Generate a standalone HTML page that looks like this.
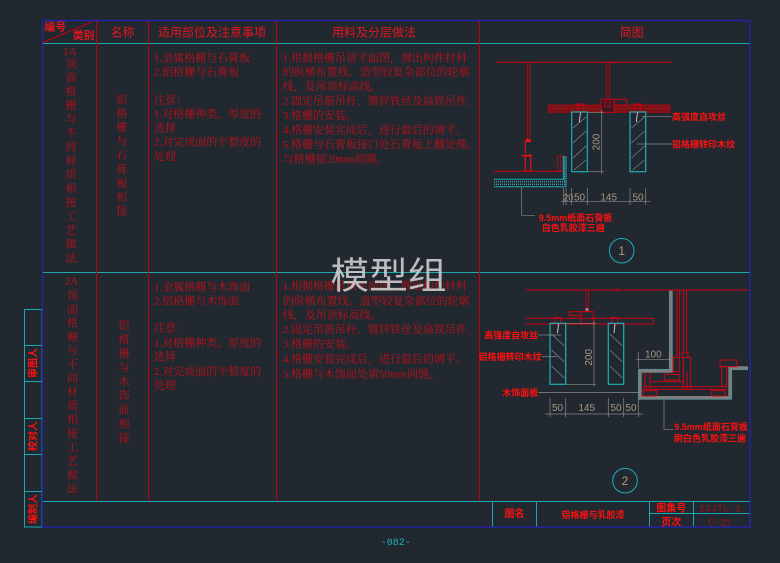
<!DOCTYPE html>
<html><head><meta charset="utf-8">
<style>
html,body{margin:0;padding:0;background:#212830;}
svg{display:block;}
.b{font-family:"Liberation Serif","Noto Serif CJK SC",serif;font-size:11px;fill:#c01018;}
.h{font-family:"Liberation Sans","Noto Sans CJK SC",sans-serif;font-size:12px;fill:#e3161e;}
.l{font-family:"Liberation Sans","Noto Sans CJK SC",sans-serif;font-size:9px;font-weight:bold;fill:#ff1010;}
.d{font-family:"Liberation Sans",sans-serif;font-size:10px;fill:#a89880;}
</style></head><body>
<svg width="780" height="563" viewBox="0 0 780 563" xmlns="http://www.w3.org/2000/svg">
<rect width="780" height="563" fill="#212830"/>

<!-- table lines -->
<g fill="none" stroke-width="1">
<line x1="42" y1="43.5" x2="750" y2="43.5" stroke="#1ba8b0"/>
<line x1="42" y1="272.5" x2="750" y2="272.5" stroke="#1ba8b0"/>
<line x1="42" y1="501.5" x2="750" y2="501.5" stroke="#1ba8b0"/>
<line x1="96.5" y1="20" x2="96.5" y2="501" stroke="#c00010"/>
<line x1="148.5" y1="20" x2="148.5" y2="501" stroke="#c00010"/>
<line x1="276.5" y1="20" x2="276.5" y2="501" stroke="#c00010"/>
<line x1="479.5" y1="20" x2="479.5" y2="501" stroke="#c00010"/>
<line x1="42" y1="43" x2="96" y2="20" stroke="#c00010"/>
<!-- title block -->
<line x1="492.5" y1="501" x2="492.5" y2="527" stroke="#1ba8b0"/>
<line x1="536.5" y1="501" x2="536.5" y2="527" stroke="#1ba8b0"/>
<line x1="649.5" y1="501" x2="649.5" y2="527" stroke="#1ba8b0"/>
<line x1="693.5" y1="501" x2="693.5" y2="527" stroke="#1ba8b0"/>
<line x1="649" y1="513.5" x2="750" y2="513.5" stroke="#1ba8b0"/>
<!-- left strip -->
<rect x="24.5" y="309.5" width="17.5" height="217.5" stroke="#1ba8b0"/>
<line x1="24.5" y1="345.5" x2="42" y2="345.5" stroke="#1ba8b0"/>
<line x1="24.5" y1="381.5" x2="42" y2="381.5" stroke="#1ba8b0"/>
<line x1="24.5" y1="418.5" x2="42" y2="418.5" stroke="#1ba8b0"/>
<line x1="24.5" y1="454.5" x2="42" y2="454.5" stroke="#1ba8b0"/>
<line x1="24.5" y1="491.5" x2="42" y2="491.5" stroke="#1ba8b0"/>
<rect x="42.5" y="20.5" width="707.5" height="506.5" stroke="#2424a8" stroke-width="1.4"/>
</g>

<!-- header text -->
<text x="44.3" y="30.5" class="h" style="font-size:11px;font-weight:bold">编号</text>
<text x="72.7" y="39" class="h" style="font-size:11px;font-weight:bold">类别</text>
<text x="122.5" y="36.5" class="h" text-anchor="middle">名称</text>
<text x="212" y="36.5" class="h" text-anchor="middle">适用部位及注意事项</text>
<text x="374" y="36.5" class="h" text-anchor="middle">用料及分层做法</text>
<text x="631.7" y="36.5" class="h" text-anchor="middle">简图</text>

<!-- row1 col1 -->
<text class="b" text-anchor="middle">
<tspan x="71" y="55">1A</tspan>
<tspan x="71" y="67.3">顶</tspan><tspan x="71" y="81.2">面</tspan><tspan x="71" y="95">格</tspan><tspan x="71" y="108.9">栅</tspan><tspan x="71" y="122.7">与</tspan><tspan x="71" y="136.6">不</tspan><tspan x="71" y="150.5">同</tspan><tspan x="71" y="164.3">材</tspan><tspan x="71" y="178.2">质</tspan><tspan x="71" y="192">相</tspan><tspan x="71" y="205.9">接</tspan><tspan x="71" y="219.8">工</tspan><tspan x="71" y="233.6">艺</tspan><tspan x="71" y="247.5">做</tspan><tspan x="71" y="261.3">法</tspan>
</text>
<!-- row2 col1 -->
<text class="b" text-anchor="middle">
<tspan x="72.5" y="284.3">2A</tspan>
<tspan x="72.5" y="299">顶</tspan><tspan x="72.5" y="312.8">面</tspan><tspan x="72.5" y="326.6">格</tspan><tspan x="72.5" y="340.4">栅</tspan><tspan x="72.5" y="354.2">与</tspan><tspan x="72.5" y="368">不</tspan><tspan x="72.5" y="381.8">同</tspan><tspan x="72.5" y="395.6">材</tspan><tspan x="72.5" y="409.4">质</tspan><tspan x="72.5" y="423.2">相</tspan><tspan x="72.5" y="437">接</tspan><tspan x="72.5" y="450.8">工</tspan><tspan x="72.5" y="464.6">艺</tspan><tspan x="72.5" y="478.4">做</tspan><tspan x="72.5" y="492.2">法</tspan>
</text>
<!-- col2 -->
<text class="b" text-anchor="middle">
<tspan x="121.7" y="103.3">铝</tspan><tspan x="121.7" y="117.2">格</tspan><tspan x="121.7" y="131.2">栅</tspan><tspan x="121.7" y="145.1">与</tspan><tspan x="121.7" y="159">石</tspan><tspan x="121.7" y="173">膏</tspan><tspan x="121.7" y="186.9">板</tspan><tspan x="121.7" y="200.8">相</tspan><tspan x="121.7" y="214.7">接</tspan>
</text>
<text class="b" text-anchor="middle">
<tspan x="124" y="329">铝</tspan><tspan x="124" y="343">格</tspan><tspan x="124" y="357.1">栅</tspan><tspan x="124" y="371.1">与</tspan><tspan x="124" y="385.2">木</tspan><tspan x="124" y="399.2">饰</tspan><tspan x="124" y="413.2">面</tspan><tspan x="124" y="427.3">相</tspan><tspan x="124" y="441.3">接</tspan>
</text>
<!-- col3 -->
<text class="b">
<tspan x="154" y="61.7">1.金属格栅与石膏板</tspan>
<tspan x="154" y="75.7">2.铝格栅与石膏板</tspan>
<tspan x="154" y="103.3">注意：</tspan>
<tspan x="154" y="117.3">1.对格栅种类、厚度的</tspan>
<tspan x="154" y="131.7">选择</tspan>
<tspan x="154" y="145.7">2.对完成面的平整度的</tspan>
<tspan x="154" y="160">处理</tspan>
</text>
<text class="b">
<tspan x="154" y="290.7">1.金属格栅与木饰面</tspan>
<tspan x="154" y="304.7">2.铝格栅与木饰面</tspan>
<tspan x="154" y="331.3">注意：</tspan>
<tspan x="154" y="346.3">1.对格栅种类、厚度的</tspan>
<tspan x="154" y="360">选择</tspan>
<tspan x="154" y="375">2.对完成面的平整度的</tspan>
<tspan x="154" y="389">处理</tspan>
</text>
<!-- col4 -->
<text class="b">
<tspan x="282.7" y="61.3">1.根据格栅吊顶平面图，弹出构件材料</tspan>
<tspan x="282.7" y="75.7">的纵横布置线。造型较复杂部位的轮廓</tspan>
<tspan x="282.7" y="90.2">线，及吊顶标高线。</tspan>
<tspan x="282.7" y="104.6">2.固定吊筋吊杆、镀锌铁丝及扁铁吊件。</tspan>
<tspan x="282.7" y="119">3.格栅的安装。</tspan>
<tspan x="282.7" y="133.5">4.格栅安装完成后，进行最后的调平。</tspan>
<tspan x="282.7" y="147.9">5.格栅与石膏板接口处石膏板上翻处理。</tspan>
<tspan x="282.7" y="162.3">与格栅留20mm间隙。</tspan>
</text>
<text class="b">
<tspan x="282.7" y="289.7">1.根据格栅吊顶平面图，弹出构件材料</tspan>
<tspan x="282.7" y="304.7">的纵横布置线。造型较复杂部位的轮廓</tspan>
<tspan x="282.7" y="318.3">线，及吊顶标高线。</tspan>
<tspan x="282.7" y="333">2.固定吊筋吊杆、镀锌铁丝及扁铁吊件。</tspan>
<tspan x="282.7" y="347.3">3.格栅的安装。</tspan>
<tspan x="282.7" y="362.3">4.格栅安装完成后，进行最后的调平。</tspan>
<tspan x="282.7" y="377.3">5.格栅与木饰面处留50mm间缝。</tspan>
</text>

<!-- ===== Drawing 1 ===== -->
<g fill="none">
<line x1="496" y1="62.3" x2="671.7" y2="62.3" stroke="#d00010" stroke-width="1"/>
<line x1="612" y1="64" x2="614" y2="60" stroke="#d00010" stroke-width="0.8"/>
<!-- left hanger -->
<line x1="527.3" y1="62" x2="527.3" y2="140" stroke="#d00010" stroke-width="0.8"/>
<line x1="529.8" y1="62" x2="529.8" y2="140" stroke="#d00010" stroke-width="0.8"/>
<rect x="525.7" y="139.3" width="5" height="2.6" fill="#ff1010"/>
<polyline points="530.7,141.5 525.3,141.5 525.3,153.3" stroke="#ff1010" stroke-width="1"/>
<line x1="521.7" y1="155.7" x2="531.7" y2="155.7" stroke="#ff1010" stroke-width="1.2"/>
<rect x="525.2" y="155.2" width="5.5" height="16" stroke="#ff1010" stroke-width="1.1"/>
<!-- batten -->
<line x1="494" y1="171.3" x2="563.3" y2="171.3" stroke="#d00010" stroke-width="1"/>
<rect x="557.7" y="156" width="5.6" height="15.3" stroke="#d00010" stroke-width="0.8"/>
<line x1="560.5" y1="156" x2="560.5" y2="171" stroke="#d00010" stroke-width="0.6"/>
<!-- board -->
<polyline points="494,179.3 563.3,179.3 563.3,156" stroke="#1bb0b8" stroke-width="1"/>
<polyline points="494,186.7 566,186.7 566,156" stroke="#1bb0b8" stroke-width="1"/>
<polyline points="494,181.8 564.5,181.8" stroke="#4fc8d0" stroke-width="1" stroke-dasharray="1 1"/>
<polyline points="494,184.3 564.5,184.3 564.5,156" stroke="#4fc8d0" stroke-width="1" stroke-dasharray="1 1"/>
<!-- carrier -->
<rect x="548.3" y="105" width="121.7" height="7.3" fill="#7a1418" stroke="#c00010" stroke-width="0.8"/>
<line x1="548.3" y1="108.6" x2="670" y2="108.6" stroke="#a01018" stroke-width="0.6"/>
<!-- center hanger -->
<line x1="606.7" y1="62" x2="606.7" y2="99.3" stroke="#d00010" stroke-width="0.8"/>
<line x1="609.3" y1="62" x2="609.3" y2="99.3" stroke="#d00010" stroke-width="0.8"/>
<rect x="601" y="99.3" width="13.3" height="13" fill="#3a1a20" stroke="#d00010" stroke-width="1"/>
<rect x="614.3" y="99.3" width="12.4" height="5.7" stroke="#d00010" stroke-width="1"/>
<rect x="605" y="101.7" width="5" height="5" stroke="#d00010" stroke-width="0.8"/>
<!-- grille clips -->
<rect x="577.3" y="104" width="6" height="8.3" stroke="#d00010" stroke-width="1"/>
<rect x="634.3" y="104" width="6.4" height="8.3" stroke="#d00010" stroke-width="1"/>
<!-- grilles -->
<rect x="571.7" y="112" width="15.6" height="59.7" stroke="#1bb0b8" stroke-width="1.2"/>
<rect x="630" y="112" width="15.7" height="59.7" stroke="#1bb0b8" stroke-width="1.2"/>
<g stroke="#8a929a" stroke-width="0.6">
<line x1="573" y1="128" x2="586" y2="117"/><line x1="573" y1="143" x2="586" y2="131"/><line x1="573" y1="158" x2="586" y2="146"/><line x1="574" y1="170" x2="586" y2="160"/>
<line x1="631.5" y1="128" x2="644.5" y2="117"/><line x1="631.5" y1="143" x2="644.5" y2="131"/><line x1="631.5" y1="158" x2="644.5" y2="146"/><line x1="632.5" y1="170" x2="644.5" y2="160"/>
</g>
<line x1="580.5" y1="112.5" x2="579.3" y2="122" stroke="#d8d8d8" stroke-width="0.9"/>
<line x1="637.5" y1="112.5" x2="636.3" y2="122" stroke="#d8d8d8" stroke-width="0.9"/>
<!-- dims -->
<g stroke="#8a8a8a" stroke-width="0.7">
<line x1="601.7" y1="110" x2="601.7" y2="174"/>
<line x1="588" y1="112.3" x2="604" y2="112.3"/>
<line x1="588" y1="171.7" x2="604" y2="171.7"/>
<line x1="561" y1="201.7" x2="650" y2="201.7"/>
<line x1="563.3" y1="188" x2="563.3" y2="205"/>
<line x1="566" y1="188" x2="566" y2="205"/>
<line x1="571.7" y1="188" x2="571.7" y2="205"/>
<line x1="587.3" y1="188" x2="587.3" y2="205"/>
<line x1="630" y1="188" x2="630" y2="205"/>
<line x1="645.7" y1="188" x2="645.7" y2="205"/>
<polyline points="521.7,186.7 521.7,215.3 535,215.3"/>
<line x1="642" y1="116.7" x2="671.7" y2="116.7"/>
<line x1="636.7" y1="144" x2="672" y2="144"/>
</g>
<circle cx="621.7" cy="250.7" r="12.3" stroke="#1bb0b8" stroke-width="1"/>
</g>
<text class="d" transform="translate(596,142) rotate(-90)" y="3.5" text-anchor="middle">200</text>
<text class="d" x="568.3" y="200.5" text-anchor="middle" style="font-size:9px">20</text>
<text class="d" x="579.5" y="200.5" text-anchor="middle">50</text>
<text class="d" x="608.7" y="200.5" text-anchor="middle">145</text>
<text class="d" x="638" y="200.5" text-anchor="middle">50</text>
<text class="d" x="621.7" y="255" text-anchor="middle" style="font-size:12px;fill:#b89a70">1</text>
<text class="l" x="672" y="120">高强度自攻丝</text>
<text class="l" x="672" y="147.3">铝格栅转印木纹</text>
<text class="l" x="538.7" y="221">9.5mm纸面石膏板</text>
<text class="l" x="541.7" y="231">白色乳胶漆三遍</text>

<!-- ===== Drawing 2 ===== -->
<g fill="none">
<line x1="525.7" y1="290" x2="748.3" y2="290" stroke="#d00010" stroke-width="1"/>
<line x1="616" y1="292" x2="618" y2="288" stroke="#d00010" stroke-width="0.8"/>
<line x1="586" y1="290" x2="586" y2="311.7" stroke="#d00010" stroke-width="0.8"/>
<line x1="588.4" y1="290" x2="588.4" y2="311.7" stroke="#d00010" stroke-width="0.8"/>
<circle cx="587" cy="309.5" r="1.6" fill="#c87080"/>
<rect x="581" y="311.7" width="12.3" height="11.6" stroke="#d00010" stroke-width="1"/>
<rect x="569.3" y="311.7" width="11.7" height="3.8" stroke="#d00010" stroke-width="1"/>
<line x1="525" y1="318.3" x2="653.3" y2="318.3" stroke="#d00010" stroke-width="1"/>
<line x1="525" y1="324" x2="653.3" y2="324" stroke="#d00010" stroke-width="1"/>
<line x1="653.3" y1="318.3" x2="653.3" y2="324" stroke="#d00010" stroke-width="1"/>
<rect x="555" y="317.5" width="5.7" height="6" stroke="#d00010" stroke-width="1"/>
<rect x="611.7" y="317.5" width="6" height="6" stroke="#d00010" stroke-width="1"/>
<rect x="550" y="323.3" width="15.7" height="61" stroke="#1bb0b8" stroke-width="1.2"/>
<rect x="608.3" y="323.3" width="15.4" height="61" stroke="#1bb0b8" stroke-width="1.2"/>
<g stroke="#8a929a" stroke-width="0.6">
<line x1="551.5" y1="334" x2="564.5" y2="346"/><line x1="551.5" y1="350" x2="564.5" y2="362"/><line x1="551.5" y1="366" x2="564.5" y2="378"/>
<line x1="609.8" y1="334" x2="622.5" y2="346"/><line x1="609.8" y1="350" x2="622.5" y2="362"/><line x1="609.8" y1="366" x2="622.5" y2="378"/>
</g>
<line x1="558.5" y1="324" x2="557.5" y2="333" stroke="#d8d8d8" stroke-width="0.9"/>
<line x1="615" y1="324" x2="614" y2="333" stroke="#d8d8d8" stroke-width="0.9"/>
<!-- board band -->
<path d="M671,290.7 V371 H640 V397.7 H730 V368 H748" stroke="#7e7e7e" stroke-width="3.4" stroke-linejoin="miter"/>
<path d="M669.3,290.7 V369.3 H638.3 V399.3 H731.7 V369.7 H748" stroke="#3fc0c8" stroke-width="0.8" stroke-dasharray="1 1"/>
<!-- red framing -->
<g stroke="#e00010" stroke-width="0.9">
<line x1="677" y1="290" x2="677" y2="357"/>
<line x1="679.5" y1="290" x2="679.5" y2="357"/>
<line x1="683.5" y1="290" x2="683.5" y2="353"/>
<line x1="686.5" y1="290" x2="686.5" y2="353"/>
<rect x="682" y="353" width="6" height="4.5"/>
<rect x="673.3" y="357.3" width="6" height="14.4"/>
<rect x="683.3" y="357.5" width="7.4" height="31.8"/>
<line x1="687" y1="372" x2="687" y2="389"/>
<rect x="664.3" y="374.3" width="15" height="5.7"/>
<line x1="643.3" y1="386.7" x2="726.7" y2="386.7"/>
<line x1="643.3" y1="389.3" x2="726.7" y2="389.3"/>
<line x1="645" y1="373" x2="645" y2="389"/>
<line x1="650" y1="373" x2="650" y2="389"/>
<line x1="650" y1="381.7" x2="683" y2="381.7"/>
<rect x="643.3" y="390.7" width="13.4" height="5.3"/>
<rect x="711.7" y="390.7" width="13.3" height="5.3"/>
<rect x="720" y="360" width="16.7" height="6.7"/>
<rect x="721.7" y="366.7" width="5" height="20"/>
</g>
<!-- dims -->
<g stroke="#8a8a8a" stroke-width="0.7">
<line x1="594" y1="321" x2="594" y2="386.5"/>
<line x1="566.5" y1="323.3" x2="596" y2="323.3"/>
<line x1="566.5" y1="384.3" x2="596" y2="384.3"/>
<line x1="545.5" y1="414" x2="643" y2="414"/>
<line x1="550" y1="398" x2="550" y2="417"/>
<line x1="565.7" y1="398" x2="565.7" y2="417"/>
<line x1="608.3" y1="398" x2="608.3" y2="417"/>
<line x1="623.7" y1="398" x2="623.7" y2="417"/>
<line x1="638.3" y1="398" x2="638.3" y2="417"/>
<line x1="636" y1="359.3" x2="671" y2="359.3"/>
<line x1="638.3" y1="352" x2="638.3" y2="368"/>
<line x1="669.3" y1="352" x2="669.3" y2="362"/>
<line x1="538.3" y1="335" x2="561" y2="335"/>
<line x1="541.7" y1="356.7" x2="557" y2="356.7"/>
<line x1="538.3" y1="392.5" x2="640" y2="392.5"/>
<polyline points="664,400 664,429.3 673.3,429.3"/>
</g>
<circle cx="625" cy="480.7" r="12.3" stroke="#1bb0b8" stroke-width="1"/>
</g>
<text class="d" transform="translate(588.3,357.3) rotate(-90)" y="3.5" text-anchor="middle">200</text>
<text class="d" x="557.5" y="411" text-anchor="middle">50</text>
<text class="d" x="586.7" y="411" text-anchor="middle">145</text>
<text class="d" x="616" y="411" text-anchor="middle">50</text>
<text class="d" x="631" y="411" text-anchor="middle">50</text>
<text class="d" x="653.3" y="357.7" text-anchor="middle">100</text>
<text class="d" x="625" y="485" text-anchor="middle" style="font-size:12px;fill:#b89a70">2</text>
<text class="l" x="538.3" y="338.5" text-anchor="end">高强度自攻丝</text>
<text class="l" x="541.7" y="360" text-anchor="end">铝格栅转印木纹</text>
<text class="l" x="538.3" y="396" text-anchor="end">木饰面板</text>
<text class="l" x="674.3" y="430">9.5mm纸面石膏板</text>
<text class="l" x="674" y="441.7">刷白色乳胶漆三遍</text>

<!-- title block text -->
<text class="l" x="514.5" y="517" text-anchor="middle" style="font-size:10px">图名</text>
<text class="l" x="593" y="518" text-anchor="middle">铝格栅与乳胶漆</text>
<text class="l" x="671.3" y="511.3" text-anchor="middle" style="font-size:10px">图集号</text>
<text class="l" x="671.3" y="525.3" text-anchor="middle" style="font-size:10px">页次</text>
<text x="720" y="511.3" text-anchor="middle" style="font-family:'Liberation Mono',monospace;font-size:10px;fill:#a01018">13JTL-1</text>
<text x="720" y="525.3" text-anchor="middle" style="font-family:'Liberation Mono',monospace;font-size:10px;fill:#a01018">C-21</text>

<!-- left strip labels -->
<text class="l" transform="translate(33,363) rotate(-90)" y="3.5" text-anchor="middle" style="font-size:10px">审图人</text>
<text class="l" transform="translate(33,436) rotate(-90)" y="3.5" text-anchor="middle" style="font-size:10px">校对人</text>
<text class="l" transform="translate(33,509) rotate(-90)" y="3.5" text-anchor="middle" style="font-size:10px">编制人</text>

<!-- page number -->
<text x="395.7" y="545" text-anchor="middle" style="font-family:'Liberation Mono',monospace;font-size:10px;fill:#20b0b8">-082-</text>

<!-- watermark -->
<text x="388.5" y="288.5" text-anchor="middle" textLength="116" lengthAdjust="spacingAndGlyphs" style="font-family:'Liberation Sans','Noto Sans CJK SC',sans-serif;font-size:37px;fill:#d2d2d2;opacity:0.88">模型组</text>
</svg>
</body></html>
